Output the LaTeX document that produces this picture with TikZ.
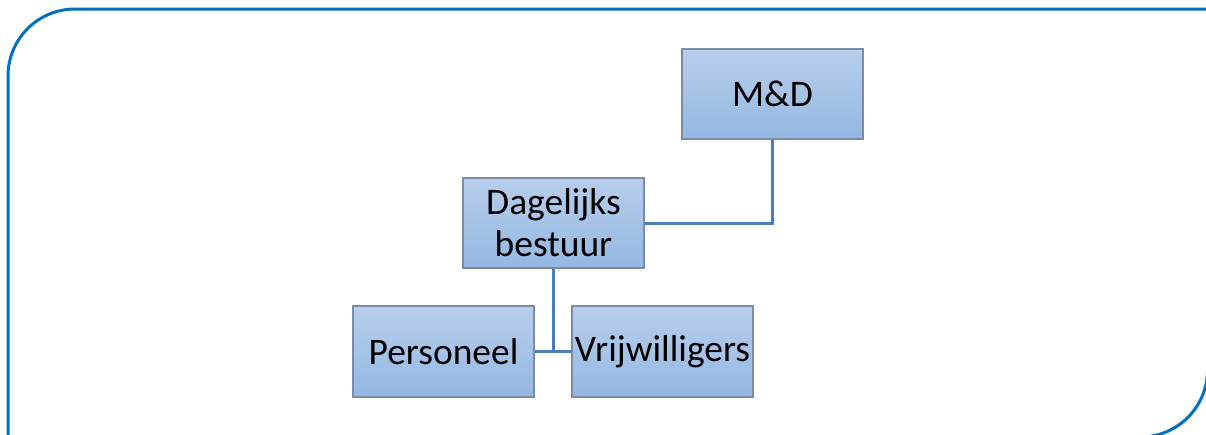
\documentclass[tikz,border=0pt]{standalone}
\usepackage{fontspec}
\setmainfont{Carlito}
\definecolor{frameblue}{RGB}{0,112,192}
\definecolor{boxtop}{RGB}{183,206,236}
\definecolor{boxbot}{RGB}{148,184,227}
\definecolor{boxedge}{RGB}{125,140,165}
\definecolor{linkblue}{RGB}{74,126,187}
\begin{document}
\begin{tikzpicture}[x=1pt,y=1pt,
  orgbox/.style={draw=boxedge, line width=1.3pt, top color=boxtop, bottom color=boxbot,
    minimum width=181pt, minimum height=90pt, inner sep=0pt, align=center,
    font=\fontsize{37.5}{42}\selectfont, text=black},
  link/.style={draw=linkblue, line width=3pt}]
\useasboundingbox (0,0) rectangle (1206,-434);
\clip (0,0) rectangle (1206,-434);
\draw[frameblue, line width=3pt] (8,-440) -- (8,-76) arc[start angle=180, end angle=90, radius=67]
  -- (1207.5,-9) -- (1207.5,-370) arc[start angle=0, end angle=-90, radius=67] -- (8,-437) -- cycle;
\node[orgbox] (MD) at (772.5,-94) {M\&D};
\node[orgbox] (DB) at (553.5,-223) {Dagelijks\\bestuur};
\node[orgbox, minimum height=91pt] (P) at (443.5,-351.5) {Personeel};
\node[orgbox, minimum height=91pt] (V) at (662.5,-351.5) {Vrijwilligers};
\draw[link] (MD.south) -- (MD.south |- DB.east) -- (DB.east);
\draw[link] (DB.south) -- (DB.south |- P.east);
\draw[link] (P.east) -- (V.west);
\end{tikzpicture}
\end{document}
